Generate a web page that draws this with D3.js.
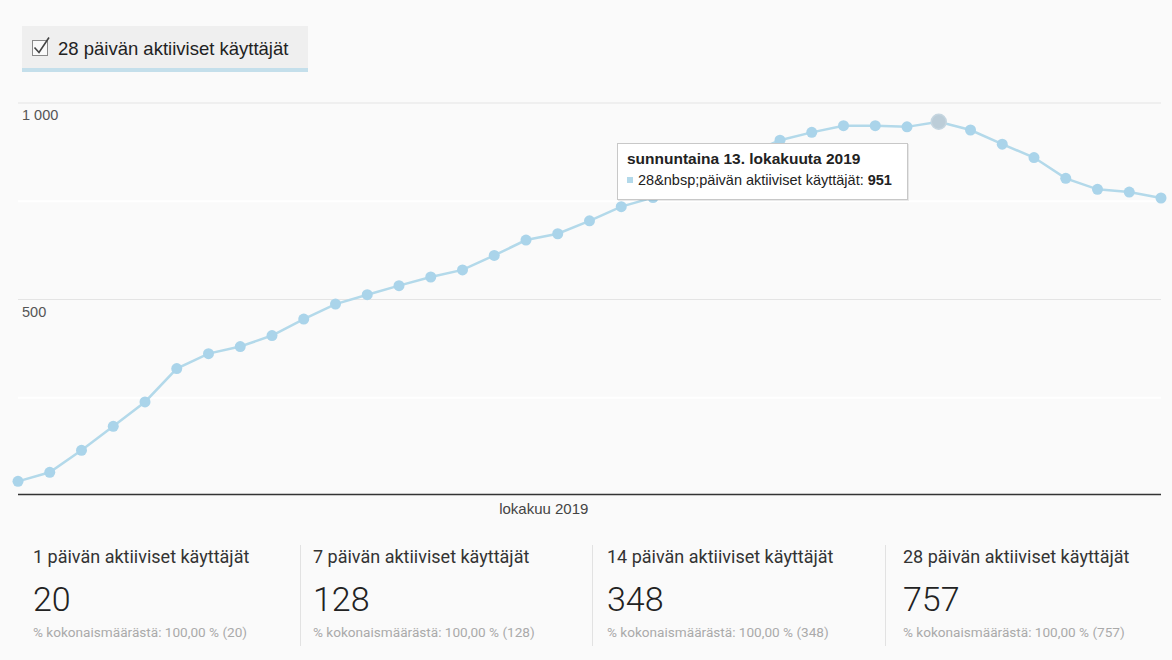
<!DOCTYPE html>
<html>
<head>
<meta charset="utf-8">
<script src="https://cdn.jsdelivr.net/npm/d3@7"></script>
<style>
  html, body { margin: 0; padding: 0; background: #fafafa; }
  svg { display: block; }
  .yaxis text { font-family: Arial, "Liberation Sans", sans-serif; font-size: 14.5px; fill: #555; }
</style>
</head>
<body>
<svg id="chart" width="1172" height="660"></svg>
<script>
// Data: 28 päivän aktiiviset käyttäjät, daily 14.9.2019 - 20.10.2019
const startDate = new Date(2019, 8, 14);
const endDate = new Date(2019, 9, 20);
const activeUsers28 = [36, 59, 115, 176, 238, 323, 361, 379, 407, 449, 487, 511, 534, 556, 574, 611, 650, 666, 699, 735, 758, 790, 830, 870, 904, 924, 941, 941, 938, 951, 930, 894, 860, 807, 779, 772, 757];
const yTicks = [500, 1000];
const yMinorTicks = [250, 750];
const legendLabel = "28 päivän aktiiviset käyttäjät";
const monthLabel = "lokakuu 2019";
const highlightDate = new Date(2019, 9, 13);
const tooltipTitle = "sunnuntaina 13. lokakuuta 2019";
const tooltipSeries = "28&nbsp;päivän aktiiviset käyttäjät: ";

// Summary cards
const cardTitles = ["1 päivän aktiiviset käyttäjät", "7 päivän aktiiviset käyttäjät", "14 päivän aktiiviset käyttäjät", "28 päivän aktiiviset käyttäjät"];
const cardValues = [20, 128, 348, 757];
const cardShare = ["100,00 %", "100,00 %", "100,00 %", "100,00 %"];

const dates = d3.timeDay.range(startDate, d3.timeDay.offset(endDate, 1));
const data = dates.map((d, i) => ({date: d, value: activeUsers28[i]}));

const svg = d3.select('#chart');
const lineColor = "#b3d9ea";
const pointColor = "#aad4ea";
const arial = "Arial, 'Liberation Sans', sans-serif";

// Scales
const xScale = d3.scaleTime()
    .domain([startDate, endDate])
    .range([18, 1161]);

const yScale = d3.scaleLinear()
    .domain([0, 1000])
    .range([495.5, 102.5]);

// Minor gridlines (white)
svg.append("g")
    .attr("transform", "translate(18,0)")
    .call(d3.axisRight(yScale).tickValues(yMinorTicks).tickSize(1143).tickFormat(""))
    .call(g => g.select(".domain").remove())
    .call(g => g.selectAll("line").attr("stroke", "#ffffff").attr("stroke-width", 2));

// Major gridlines
svg.append("g")
    .attr("transform", "translate(18,0)")
    .call(d3.axisRight(yScale).tickValues(yTicks).tickSize(1143).tickFormat(""))
    .call(g => g.select(".domain").remove())
    .call(g => g.selectAll("line").attr("stroke", "#e4e4e4").attr("stroke-width", 1));

// Y axis labels
svg.append("g")
    .attr("class", "yaxis")
    .attr("transform", "translate(22,0)")
    .call(d3.axisRight(yScale).tickValues(yTicks).tickSize(0).tickPadding(0)
        .tickFormat(d => d3.format(",")(d).replace(/,/g, " ")))
    .call(g => g.select(".domain").remove())
    .call(g => g.selectAll("text").attr("dy", "17px"));

// Baseline
svg.append("line")
    .attr("x1", xScale(startDate))
    .attr("x2", xScale(endDate))
    .attr("y1", yScale(0) - 1)
    .attr("y2", yScale(0) - 1)
    .attr("stroke", "#333")
    .attr("stroke-width", 1.5);

// Month label
svg.append("text")
    .attr("x", xScale(new Date(2019, 9, 1)) - 14)
    .attr("y", 514)
    .attr("text-anchor", "middle")
    .attr("font-family", arial)
    .attr("font-size", 15)
    .attr("fill", "#444")
    .text(monthLabel);

// Line
svg.append("path")
    .datum(data)
    .attr("fill", "none")
    .attr("stroke", lineColor)
    .attr("stroke-width", 2.5)
    .attr("d", d3.line()
        .x(d => xScale(d.date))
        .y(d => yScale(d.value)));

// Points
svg.selectAll(".pt")
    .data(data)
    .enter()
    .append("circle")
    .attr("class", "pt")
    .attr("cx", d => xScale(d.date))
    .attr("cy", d => yScale(d.value))
    .attr("r", d => +d.date === +highlightDate ? 7.5 : 5.5)
    .attr("fill", d => +d.date === +highlightDate ? "#bccdd8" : pointColor)
    .attr("stroke", d => +d.date === +highlightDate ? "#c6d6e0" : "none")
    .attr("stroke-width", 1.5);

// Legend button
const legend = svg.append("g");
legend.append("rect")
    .attr("x", 22).attr("y", 26).attr("width", 286).attr("height", 46)
    .attr("fill", "#efefef");
legend.append("rect")
    .attr("x", 22).attr("y", 68).attr("width", 286).attr("height", 4)
    .attr("fill", "#c4dfeb");
legend.append("rect")
    .attr("x", 32.5).attr("y", 40.5).attr("width", 15).attr("height", 15)
    .attr("fill", "#fafafa").attr("stroke", "#8a8a8a").attr("stroke-width", 1);
legend.append("path")
    .attr("d", "M34.5,47.5 L39,52.5 L49,37.5")
    .attr("fill", "none").attr("stroke", "#444").attr("stroke-width", 1.6);
legend.append("text")
    .attr("x", 58).attr("y", 55)
    .attr("font-family", arial)
    .attr("font-size", 18.5)
    .attr("fill", "#222")
    .text(legendLabel);

// Tooltip
const hv = data.find(d => +d.date === +highlightDate);
const tip = svg.append("g").attr("transform", "translate(617,143)");
tip.append("rect")
    .attr("x", 1).attr("y", 1).attr("width", 291).attr("height", 57)
    .attr("fill", "#000").attr("opacity", 0.08);
tip.append("rect")
    .attr("x", 0.5).attr("y", 0.5).attr("width", 290).attr("height", 56)
    .attr("fill", "#fff").attr("stroke", "#c8c8c8");
tip.append("text")
    .attr("x", 10).attr("y", 21)
    .attr("font-family", arial)
    .attr("font-size", 15.5).attr("font-weight", "bold").attr("fill", "#222")
    .text(tooltipTitle);
tip.append("rect")
    .attr("x", 10).attr("y", 34).attr("width", 6).attr("height", 6)
    .attr("fill", lineColor);
const tipLine = tip.append("text")
    .attr("x", 21).attr("y", 42)
    .attr("font-family", arial)
    .attr("font-size", 14.5).attr("fill", "#222");
tipLine.append("tspan").text(tooltipSeries);
tipLine.append("tspan").attr("font-weight", "bold").text(hv.value);

// Summary cards
const cardX = [33, 313, 607, 903];
const sepX = [300, 592, 885];

svg.selectAll(".sep")
    .data(sepX)
    .enter()
    .append("line")
    .attr("class", "sep")
    .attr("x1", d => d + 0.5).attr("x2", d => d + 0.5)
    .attr("y1", 545).attr("y2", 646)
    .attr("stroke", "#e2e2e2");

const cards = svg.selectAll(".card")
    .data(cardTitles)
    .enter()
    .append("g")
    .attr("class", "card")
    .attr("transform", (d, i) => "translate(" + cardX[i] + ",0)");

cards.append("text")
    .attr("y", 563)
    .attr("font-family", "Roboto, sans-serif")
    .attr("font-size", 18)
    .attr("fill", "#333")
    .text(d => d);

cards.append("text")
    .attr("y", 611)
    .attr("font-family", "Roboto, sans-serif")
    .attr("font-size", 34)
    .attr("font-weight", 300)
    .attr("fill", "#222")
    .text((d, i) => cardValues[i]);

cards.append("text")
    .attr("y", 637)
    .attr("font-family", "Roboto, sans-serif")
    .attr("font-size", 13.6)
    .attr("fill", "#aaa")
    .text((d, i) => "% kokonaismäärästä: " + cardShare[i] + " (" + cardValues[i] + ")");
</script>
</body>
</html>
